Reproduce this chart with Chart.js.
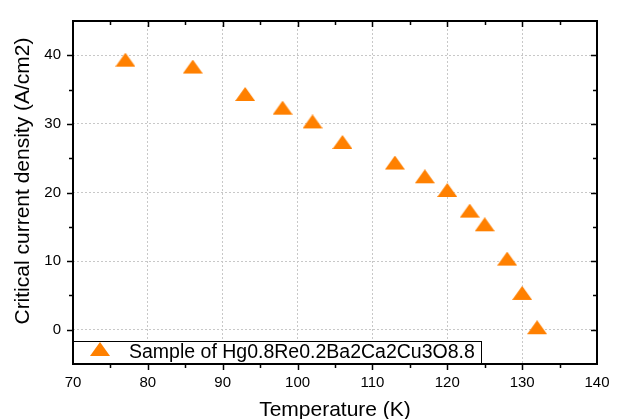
<!DOCTYPE html>
<html>
<head>
<meta charset="utf-8">
<script src="https://cdn.jsdelivr.net/npm/chart.js@4.4.1/dist/chart.umd.min.js"></script>
<style>
  html, body { margin: 0; padding: 0; background: #fff; }
  canvas { display: block; }
</style>
</head>
<body>
<canvas id="chart" width="622" height="419"></canvas>
<script>
// дані
const temperature = [77, 86, 93, 98, 102, 106, 113, 117, 120, 123, 125, 128, 130, 132];
const currentDensity = [39, 38, 34, 32, 30, 27, 24, 22, 20, 17, 15, 10, 5, 0];
const xTicks = [70, 80, 90, 100, 110, 120, 130, 140];
const yTicks = [0, 10, 20, 30, 40];
const seriesLabel = "Sample of Hg0.8Re0.2Ba2Ca2Cu3O8.8";
const yTitle = "Critical current density (A/cm2)";

const orange = "rgb(255,128,0)";
const fontFamily = "'Liberation Sans', Arial, sans-serif";

// трикутний маркер, трохи приплюснутий як в Origin
function makeTriangle() {
    const c = document.createElement("canvas");
    c.width = 20;
    c.height = 19;
    const g = c.getContext("2d");
    g.fillStyle = orange;
    g.beginPath();
    g.moveTo(10, 0);
    g.lineTo(20, 14);
    g.lineTo(0, 14);
    g.closePath();
    g.fill();
    return c;
}
const triangle = makeTriangle();

// рамка, засічки, підпис осі Y і легенда всередині області графіка
const framePlugin = {
    id: "frame",
    afterDraw(chart) {
        const ctx = chart.ctx;
        const a = chart.chartArea;
        const xs = chart.scales.x;
        const ys = chart.scales.y;
        ctx.save();

        // засічки
        ctx.strokeStyle = "#000";
        ctx.lineWidth = 1.5;
        ctx.beginPath();
        for (let v = 75; v < 140; v += 5) {
            const px = Math.round(xs.getPixelForValue(v)) + 0.5;
            const len = v % 10 === 0 ? 6 : 4;
            ctx.moveTo(px, a.bottom); ctx.lineTo(px, a.bottom + len);
            ctx.moveTo(px, a.top); ctx.lineTo(px, a.top + len);
        }
        for (let v = 0; v < 45; v += 5) {
            const py = Math.round(ys.getPixelForValue(v)) + 0.5;
            const len = v % 10 === 0 ? 6 : 4;
            ctx.moveTo(a.left, py); ctx.lineTo(a.left - len, py);
            ctx.moveTo(a.right, py); ctx.lineTo(a.right - len, py);
        }
        ctx.stroke();

        // підпис осі Y (трохи вище центру, як в оригіналі)
        ctx.fillStyle = "#000";
        ctx.font = "21px " + fontFamily;
        ctx.textAlign = "center";
        ctx.textBaseline = "middle";
        ctx.translate(23.5, 181);
        ctx.rotate(-Math.PI / 2);
        ctx.fillText(yTitle, 0, 0);
        ctx.setTransform(1, 0, 0, 1, 0, 0);

        // легенда
        const lx = a.left, ly = 341;
        const lw = 408, lh = a.bottom - ly;
        ctx.fillStyle = "#fff";
        ctx.fillRect(lx, ly, lw, lh);
        ctx.lineWidth = 1;
        ctx.strokeStyle = "#000";
        ctx.strokeRect(lx + 0.5, ly + 0.5, lw, lh);
        ctx.drawImage(triangle, lx + 17, ly + 1);
        ctx.fillStyle = "#000";
        ctx.font = "19.5px " + fontFamily;
        ctx.textAlign = "left";
        ctx.textBaseline = "alphabetic";
        ctx.fillText(chart.data.datasets[0].label, lx + 56, ly + 16.5);

        // рамка
        ctx.lineWidth = 2;
        ctx.strokeRect(a.left, a.top, a.right - a.left, a.bottom - a.top);
        ctx.restore();
    }
};

const ctx = document.getElementById("chart").getContext("2d");

new Chart(ctx, {
    type: "scatter",
    data: {
        datasets: [{
            label: seriesLabel,
            data: temperature.map((t, i) => ({ x: t, y: currentDensity[i] })),
            pointStyle: triangle,
            backgroundColor: orange,
            borderColor: orange
        }]
    },
    options: {
        responsive: false,
        animation: false,
        layout: { padding: { top: 14, right: 25, left: 0, bottom: 0 } },
        plugins: {
            legend: { display: false },
            tooltip: { enabled: false }
        },
        scales: {
            x: {
                type: "linear",
                min: 70,
                max: 140,
                afterBuildTicks: s => { s.ticks = xTicks.map(v => ({ value: v })); },
                afterFit: s => { s.height = 55; },
                grid: { color: "#c8c8c8", lineWidth: 1, drawTicks: false },
                border: { display: false, dash: [2, 2] },
                ticks: { color: "#000", padding: 10, maxRotation: 0, font: { family: fontFamily, size: 15 } },
                title: {
                    display: true,
                    text: "Temperature (K)",
                    color: "#000",
                    font: { family: fontFamily, size: 21, lineHeight: 0.8 },
                    padding: { top: 0, bottom: 0.3 }
                }
            },
            y: {
                type: "linear",
                min: -5,
                max: 45,
                afterBuildTicks: s => { s.ticks = yTicks.map(v => ({ value: v })); },
                afterFit: s => { s.width = 73; },
                grid: { color: "#c8c8c8", lineWidth: 1, drawTicks: false },
                border: { display: false, dash: [2, 2] },
                ticks: { color: "#000", padding: 12, font: { family: fontFamily, size: 15 } },
                title: { display: false }
            }
        }
    },
    plugins: [framePlugin]
});
</script>
</body>
</html>
